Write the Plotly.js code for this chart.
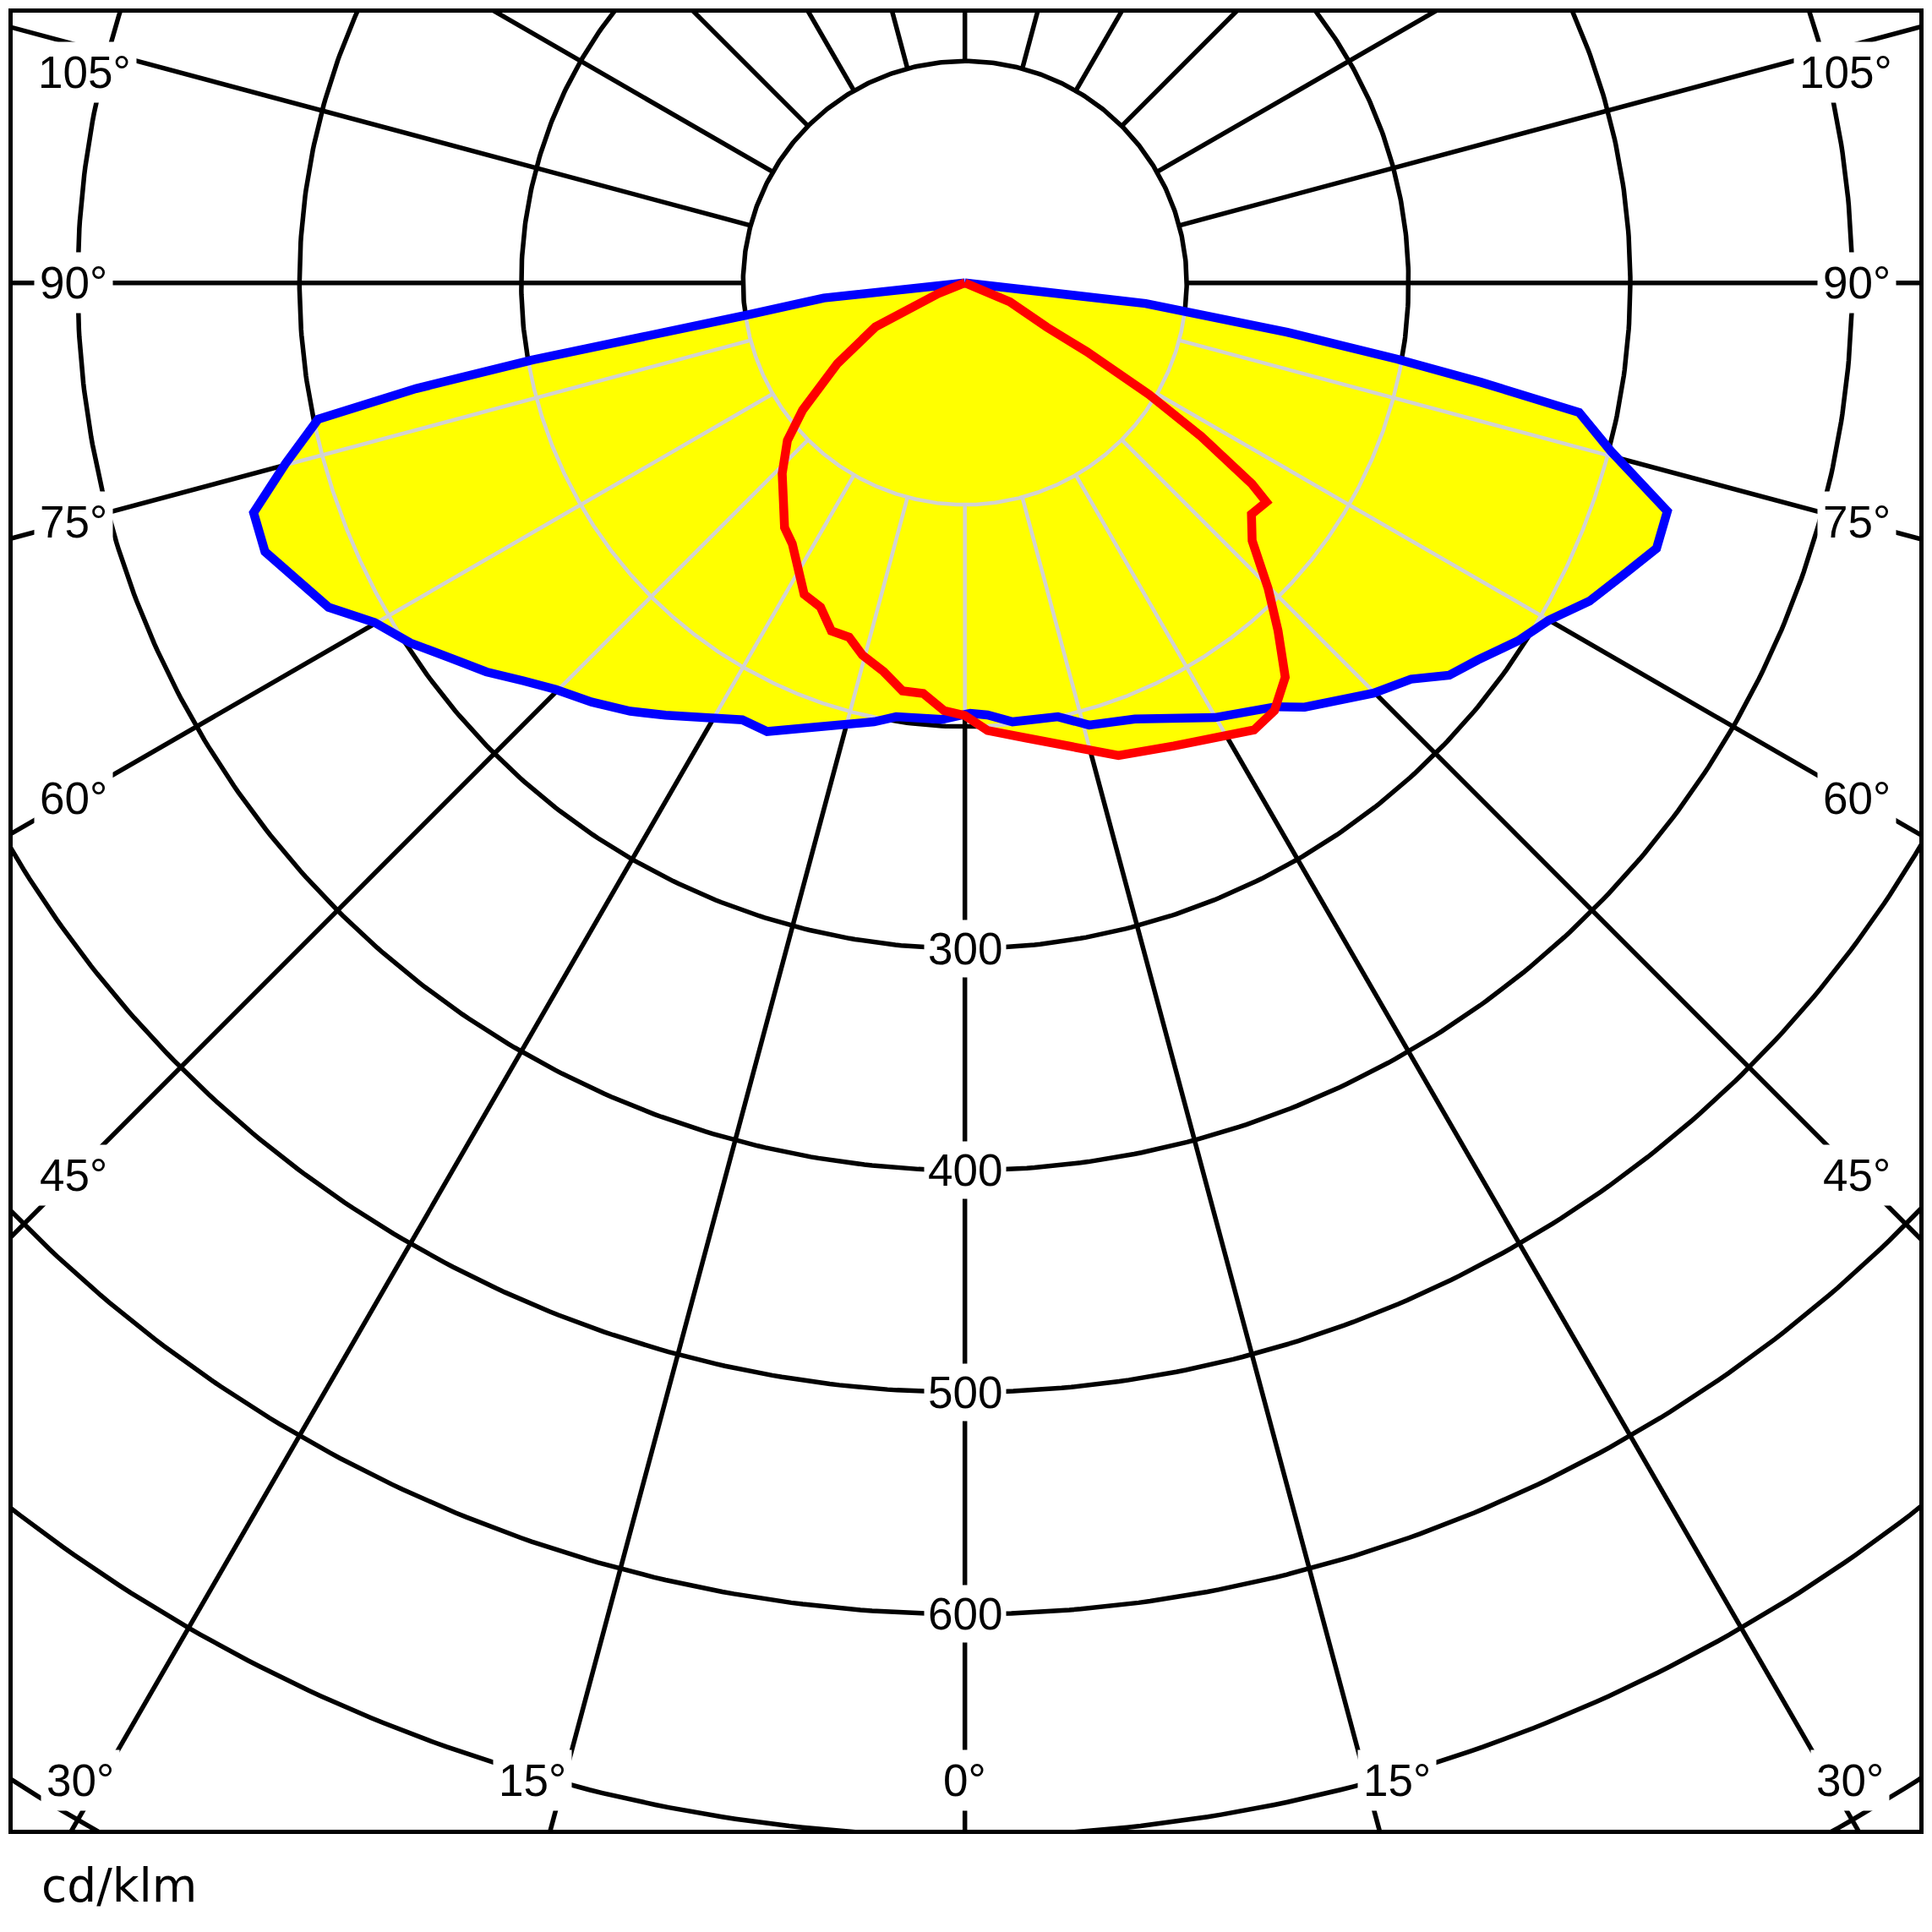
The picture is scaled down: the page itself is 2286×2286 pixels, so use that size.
<!DOCTYPE html>
<html>
<head>
<meta charset="utf-8">
<script src="https://cdn.plot.ly/plotly-3.0.1.min.js"></script>
<style>
  html, body { margin: 0; padding: 0; background: #ffffff; }
  #chart { width: 2286px; height: 2286px; }
</style>
</head>
<body>
<div id="chart"></div>
<script>
// ---- Data (gamma angle in degrees from nadir, negative = left half; intensity in cd/klm) ----
const blueGamma = [-90, -83.9, -81.6, -80.8, -79.9, -79.1, -78.1, -75.1, -72.1, -69.0, -66.0, -63.0, -60.1, -57.0,
  -53.9, -50.9, -48.0, -45.2, -41.7, -38.0, -34.7, -30.5, -27.0, -23.8, -20.9, -15.7, -11.7, -9.0, -3.0,
  0.7, 3.0, 6.2, 12.1, 15.7, 21.3, 29.9, 32.7, 36.3, 38.7, 42.1, 44.9, 48.4, 51.0, 53.7, 57.1, 60.0,
  63.0, 66.2, 69.0, 72.0, 75.4, 78.1, 79.1, 80.0, 81.3, 83.5, 90];
const blueIntensity = [0, 64, 100, 132, 198, 252, 298, 317, 337, 338, 329, 322, 307, 298,
  287, 278, 268, 260, 253, 245, 237, 228, 221, 221, 215, 207, 202, 198, 197,
  194, 195, 199, 200, 207, 211, 226, 230, 237, 245, 253, 261, 269, 281, 287, 297, 304,
  316, 325, 334, 333, 301, 283, 237, 198, 147, 82, 0];

const redGamma = [-90, -68.1, -63.8, -57.7, -51.9, -48.4, -43.8, -36.4, -33.5, -27.3, -24.0, -21.0, -18.1,
  -15.4, -11.8, -8.7, -5.8, -2.8, 0, 2.9, 7.7, 12.2, 18.0, 24.3, 32.9, 35.9, 39.1, 42.0, 44.8, 48.1,
  51.1, 54.0, 55.0, 57.0, 58.8, 60.6, 61.6, 67.1, 90];
const redIntensity = [0, 13, 45, 68, 93, 107, 119, 137, 141, 158, 160, 168, 168,
  174, 179, 186, 186, 193, 195, 202, 207, 213, 224, 229, 240, 238, 229, 211, 194, 174,
  166, 168, 158, 127, 97, 63, 42, 22, 0];

const ringValues = [100, 200, 300, 400, 500, 600, 700, 800];
const spokeAngles = [-165, -150, -135, -120, -105, -90, -75, -60, -45, -30, -15, 0,
  15, 30, 45, 60, 75, 90, 105, 120, 135, 150, 165, 180];
const radialLabelValues = [300, 400, 500, 600];
const angleLabelValues = [105, 90, 75, 60, 45, 30, 15, 0];
const unitLabel = "cd/klm";

// ---- helpers ----
const D2R = Math.PI / 180;
function toXY(gammas, rs) {
  const x = [], y = [];
  for (let i = 0; i < gammas.length; i++) {
    x.push(rs[i] * Math.sin(gammas[i] * D2R));
    y.push(-rs[i] * Math.cos(gammas[i] * D2R));
  }
  return { x, y };
}
const bluePoly = toXY(blueGamma, blueIntensity);
const redPoly = toXY(redGamma, redIntensity);

// radial extent of the lit (union) area along a ray
function envelope(g) {
  const dx = Math.sin(g * D2R), dy = -Math.cos(g * D2R);
  let best = 0;
  [bluePoly, redPoly].forEach(P => {
    const n = P.x.length;
    for (let i = 0; i < n; i++) {
      const ax = P.x[i], ay = P.y[i];
      const bx = P.x[(i + 1) % n], by = P.y[(i + 1) % n];
      const ex = bx - ax, ey = by - ay;
      const den = dx * ey - dy * ex;
      if (Math.abs(den) < 1e-12) continue;
      const t = (ax * ey - ay * ex) / den;
      const s = (ax * dy - ay * dx) / den;
      if (t > 0 && s >= -1e-9 && s <= 1 + 1e-9) best = Math.max(best, t);
    }
  });
  return best;
}

// full black grid
const gx = [], gy = [];
ringValues.forEach(R => {
  for (let a = -180; a <= 180.001; a += 0.5) {
    gx.push(R * Math.sin(a * D2R)); gy.push(-R * Math.cos(a * D2R));
  }
  gx.push(null); gy.push(null);
});
spokeAngles.forEach(a => {
  [100, 900].forEach(r => { gx.push(r * Math.sin(a * D2R)); gy.push(-r * Math.cos(a * D2R)); });
  gx.push(null); gy.push(null);
});

// light grid inside the lit area
const lx = [], ly = [];
const step = 0.1;
const envCache = [];
for (let a = -180; a <= 180.0001; a += step) envCache.push([a, envelope(a)]);
ringValues.forEach(R => {
  let open = false;
  envCache.forEach(([a, e]) => {
    if (e >= R) {
      lx.push(R * Math.sin(a * D2R)); ly.push(-R * Math.cos(a * D2R)); open = true;
    } else if (open) {
      lx.push(null); ly.push(null); open = false;
    }
  });
  if (open) { lx.push(null); ly.push(null); }
});
spokeAngles.forEach(a => {
  const e = envelope(a);
  if (e > 100) {
    [100, e].forEach(r => { lx.push(r * Math.sin(a * D2R)); ly.push(-r * Math.cos(a * D2R)); });
    lx.push(null); ly.push(null);
  }
});

const traces = [
  { x: gx, y: gy, mode: 'lines', line: { color: '#000000', width: 5.5 }, hoverinfo: 'skip', showlegend: false },
  { x: bluePoly.x, y: bluePoly.y, mode: 'lines', fill: 'toself', fillcolor: '#ffff00',
    line: { width: 0, color: 'rgba(0,0,0,0)' }, hoverinfo: 'skip', showlegend: false },
  { x: redPoly.x, y: redPoly.y, mode: 'lines', fill: 'toself', fillcolor: '#ffff00',
    line: { width: 0, color: 'rgba(0,0,0,0)' }, hoverinfo: 'skip', showlegend: false },
  { x: lx, y: ly, mode: 'lines', line: { color: '#d2d2d2', width: 4.5 }, hoverinfo: 'skip', showlegend: false },
  { x: bluePoly.x, y: bluePoly.y, mode: 'lines', line: { color: '#0000ff', width: 10.5 }, name: 'C0-C180', showlegend: false },
  { x: redPoly.x, y: redPoly.y, mode: 'lines', line: { color: '#ff0000', width: 10.5 }, name: 'C90-C270', showlegend: false }
];

// ---- labels ----
const labelFont = { family: 'Liberation Sans, Arial, sans-serif', size: 53, color: '#000000' };
const annotations = [];
radialLabelValues.forEach(v => {
  annotations.push({ x: 0, y: -v, xref: 'x', yref: 'y', text: String(v), showarrow: false,
    font: labelFont, bgcolor: '#ffffff', borderpad: 4, xanchor: 'center', yanchor: 'middle' });
});
// label placement near the frame
const sideX = 402, topY = 95, bottomY = -675;
const bottomX = { 0: 0, 15: 195, 30: 399 };
angleLabelValues.forEach(a => {
  let px, py;
  if (a >= 45) {
    px = (a > 90) ? 397 : sideX;
    py = (a === 90) ? 0 : Math.min(topY, -sideX / Math.tan(a * D2R));
  } else {
    px = bottomX[a]; py = bottomY;
  }
  const sides = (a === 0) ? [1] : [-1, 1];
  sides.forEach(s => {
    annotations.push({ x: s * px, y: py, xref: 'x', yref: 'y', text: a + '°', showarrow: false,
      font: labelFont, bgcolor: '#ffffff', borderpad: 6, xanchor: 'center', yanchor: 'middle' });
  });
});
annotations.push({ x: 0.014, y: -0.0305, xref: 'paper', yref: 'paper', text: unitLabel, showarrow: false,
  font: { family: 'DejaVu Sans, Verdana, sans-serif', size: 55, color: '#000000' },
  xanchor: 'left', yanchor: 'middle' });

const axisCommon = { showgrid: false, zeroline: false, showticklabels: false, ticks: '',
  showline: true, mirror: true, linecolor: '#000000', linewidth: 5, fixedrange: true };

const layout = {
  width: 2286, height: 2286,
  margin: { l: 15, r: 15, t: 15, b: 121, pad: 0 },
  paper_bgcolor: '#ffffff', plot_bgcolor: '#ffffff',
  xaxis: Object.assign({ range: [-429.3, 430.3] }, axisCommon),
  yaxis: Object.assign({ range: [-697.2, 121.8] }, axisCommon),
  showlegend: false,
  hovermode: false,
  annotations: annotations
};

Plotly.newPlot('chart', traces, layout, { staticPlot: true, displayModeBar: false });
</script>
</body>
</html>
